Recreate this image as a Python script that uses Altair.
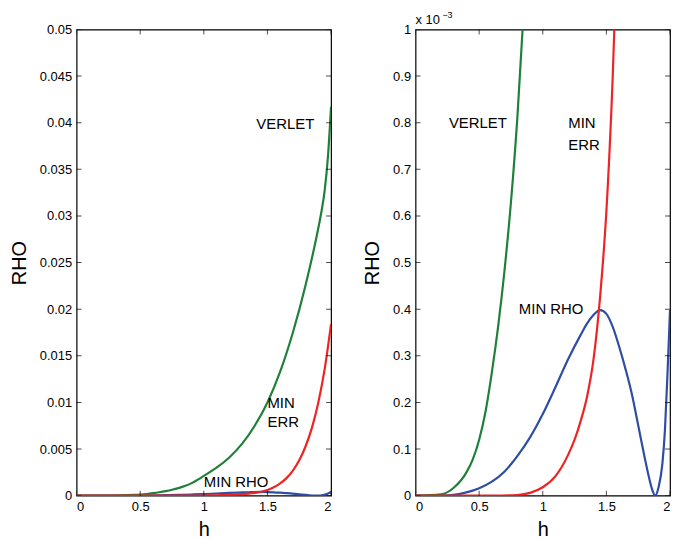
import altair as alt
import pandas as pd

# ---- values (rho given in units of 1e-3) ----
h_verlet = [0, 0.2, 0.3, 0.4, 0.45, 0.5, 0.55, 0.6, 0.65, 0.7, 0.75, 0.8, 0.85, 0.9, 0.95,
            1.0, 1.1, 1.2, 1.3, 1.4, 1.5, 1.6, 1.7, 1.8, 1.9, 1.925, 1.95, 1.975, 2.0]
rho_verlet = [0, 0.003, 0.017, 0.05, 0.078, 0.12, 0.18, 0.265, 0.365, 0.485, 0.63, 0.81, 1.04, 1.32, 1.70,
              2.12, 3.0, 4.1, 5.55, 7.5, 10.0, 13.3, 17.5, 22.6, 28.7, 30.5, 32.75, 36.25, 41.7]

h_minerr = [0, 0.6, 0.8, 0.9, 1.0, 1.1, 1.15, 1.2, 1.25, 1.3, 1.35, 1.4, 1.45, 1.5, 1.55,
            1.6, 1.65, 1.7, 1.75, 1.8, 1.85, 1.9, 1.95, 2.0]
rho_minerr = [0, 0.0001, 0.0015, 0.006, 0.018, 0.042, 0.062, 0.088, 0.12, 0.162, 0.215, 0.295, 0.425,
              0.61, 0.90, 1.31, 1.88, 2.69, 3.79, 5.3, 7.3, 10.0, 13.6, 18.4]

h_minrho = [0, 0.2, 0.3, 0.4, 0.5, 0.6, 0.7, 0.8, 0.9, 1.0, 1.1, 1.2, 1.3, 1.35, 1.4, 1.45,
            1.5, 1.55, 1.6, 1.65, 1.7, 1.75, 1.8, 1.83, 1.86, 1.883, 1.91, 1.94, 1.96, 1.98, 2.0]
rho_minrho = [0, 0.0005, 0.002, 0.007, 0.016, 0.030, 0.052, 0.085, 0.125, 0.175, 0.233, 0.293, 0.346,
              0.37, 0.388, 0.398, 0.39, 0.362, 0.32, 0.272, 0.218, 0.151, 0.083, 0.045, 0.013, 0.0,
              0.018, 0.068, 0.14, 0.26, 0.398]

x_ticks = [0, 0.5, 1, 1.5, 2]
y_ticks_left = [0, 0.005, 0.01, 0.015, 0.02, 0.025, 0.03, 0.035, 0.04, 0.045, 0.05]
y_ticks_right = [0, 0.1, 0.2, 0.3, 0.4, 0.5, 0.6, 0.7, 0.8, 0.9, 1.0]

# annotation labels: text, h, rho (rho in 1e-3 units)
left_text = ["VERLET", "MIN", "ERR", "MIN RHO"]
left_h = [1.64, 1.5, 1.5, 1.0]
left_rho = [39.9, 9.9, 7.95, 1.5]
left_align = ["center", "left", "left", "left"]

right_text = ["VERLET", "MIN", "ERR", "MIN RHO"]
right_h = [0.49, 1.2, 1.2, 1.066]
right_rho = [0.80, 0.80, 0.752, 0.40]
right_align = ["center", "left", "left", "center"]

COLORS = {"MIN RHO": "#2f4ea3", "VERLET": "#1f8039", "MIN ERR": "#ee2424"}
FONT = "Liberation Sans"

frames = []
for name, hs, rs in [("MIN RHO", h_minrho, rho_minrho), ("VERLET", h_verlet, rho_verlet),
                     ("MIN ERR", h_minerr, rho_minerr)]:
    frames.append(pd.DataFrame({"h": hs, "rho_e3": rs, "series": name}))
lines_df = pd.concat(frames, ignore_index=True)
lines_df["rho"] = lines_df["rho_e3"] / 1000.0


def panel(ycol, ydomain, yticks, txt, th, tr, talign, with_exp=False):
    xs = alt.Scale(domain=[0, 2], nice=False, zero=False)
    ys = alt.Scale(domain=ydomain, nice=False, zero=False)
    xax = alt.Axis(values=x_ticks, ticks=False, domain=False, grid=False,
                   labelFont=FONT, labelFontSize=13, labelColor="black", labelPadding=5,
                   labelExpr="format(datum.value, '~g')",
                   title="h", titleFont=FONT, titleFontSize=20, titleFontWeight="normal",
                   titleColor="black", titlePadding=6)
    yax = alt.Axis(values=yticks, ticks=False, domain=False, grid=False,
                   labelFont=FONT, labelFontSize=13, labelColor="black", labelPadding=5,
                   labelExpr="format(datum.value, '~g')",
                   title="RHO", titleFont=FONT, titleFontSize=20, titleFontWeight="normal",
                   titleColor="black", titlePadding=10)

    def X(f="h"):
        return alt.X(f, type="quantitative", scale=xs, axis=xax)

    def Y(f=ycol):
        return alt.Y(f, type="quantitative", scale=ys, axis=yax)

    layers = []
    for name in ["MIN RHO", "VERLET", "MIN ERR"]:
        layers.append(
            alt.Chart(lines_df).transform_filter(alt.datum.series == name)
            .mark_line(clip=True, strokeWidth=2.2, color=COLORS[name], interpolate="monotone")
            .encode(x=X(), y=Y())
        )

    # inward frame ticks (centered on the frame edge, outer half clipped)
    yt = pd.DataFrame({"tv": yticks * 2, "edge": [0.0] * len(yticks) + [2.0] * len(yticks)})
    layers.append(alt.Chart(yt).mark_tick(clip=True, orient="horizontal", size=10,
                                          thickness=1, color="black")
                  .encode(x=X("edge"), y=Y("tv")))
    xt = pd.DataFrame({"tv": x_ticks * 2,
                       "edge": [ydomain[0]] * len(x_ticks) + [ydomain[1]] * len(x_ticks)})
    layers.append(alt.Chart(xt).mark_tick(clip=True, orient="vertical", size=10,
                                          thickness=1, color="black")
                  .encode(x=X("tv"), y=Y("edge")))

    tdf = pd.DataFrame({"label": txt, "h": th, "rho_e3": tr, "al": talign})
    tdf["rho"] = tdf["rho_e3"] / 1000.0
    for al in ["left", "center"]:
        sub = tdf[tdf["al"] == al].reset_index(drop=True)
        if len(sub):
            layers.append(
                alt.Chart(sub).mark_text(font=FONT, fontSize=15, align=al, baseline="middle",
                                         color="black")
                .encode(x=X(), y=Y(), text="label:N")
            )
    if with_exp:
        edf = pd.DataFrame({"h": [0.0], "rho_e3": [1.0], "t1": ["x 10"], "t2": ["\u22123"]})
        layers.append(alt.Chart(edf).mark_text(font=FONT, fontSize=13, align="left",
                                               baseline="alphabetic", dy=-6, color="black")
                      .encode(x=X(), y=Y("rho_e3"), text="t1:N"))
        layers.append(alt.Chart(edf).mark_text(font=FONT, fontSize=9, align="left",
                                               baseline="alphabetic", dx=27, dy=-12, color="black")
                      .encode(x=X(), y=Y("rho_e3"), text="t2:N"))
    return alt.layer(*layers).properties(width=256, height=469)


left = panel("rho", [0, 0.05], y_ticks_left, left_text, left_h, left_rho, left_align)
right = panel("rho_e3", [0, 1.0], y_ticks_right, right_text, right_h, right_rho, right_align,
              with_exp=True)

chart = alt.hconcat(left, right, spacing=30).configure_view(
    stroke="black", strokeWidth=1.2).properties(padding=0)

chart.save("out.html", embed_options={"renderer": "svg", "actions": False})
